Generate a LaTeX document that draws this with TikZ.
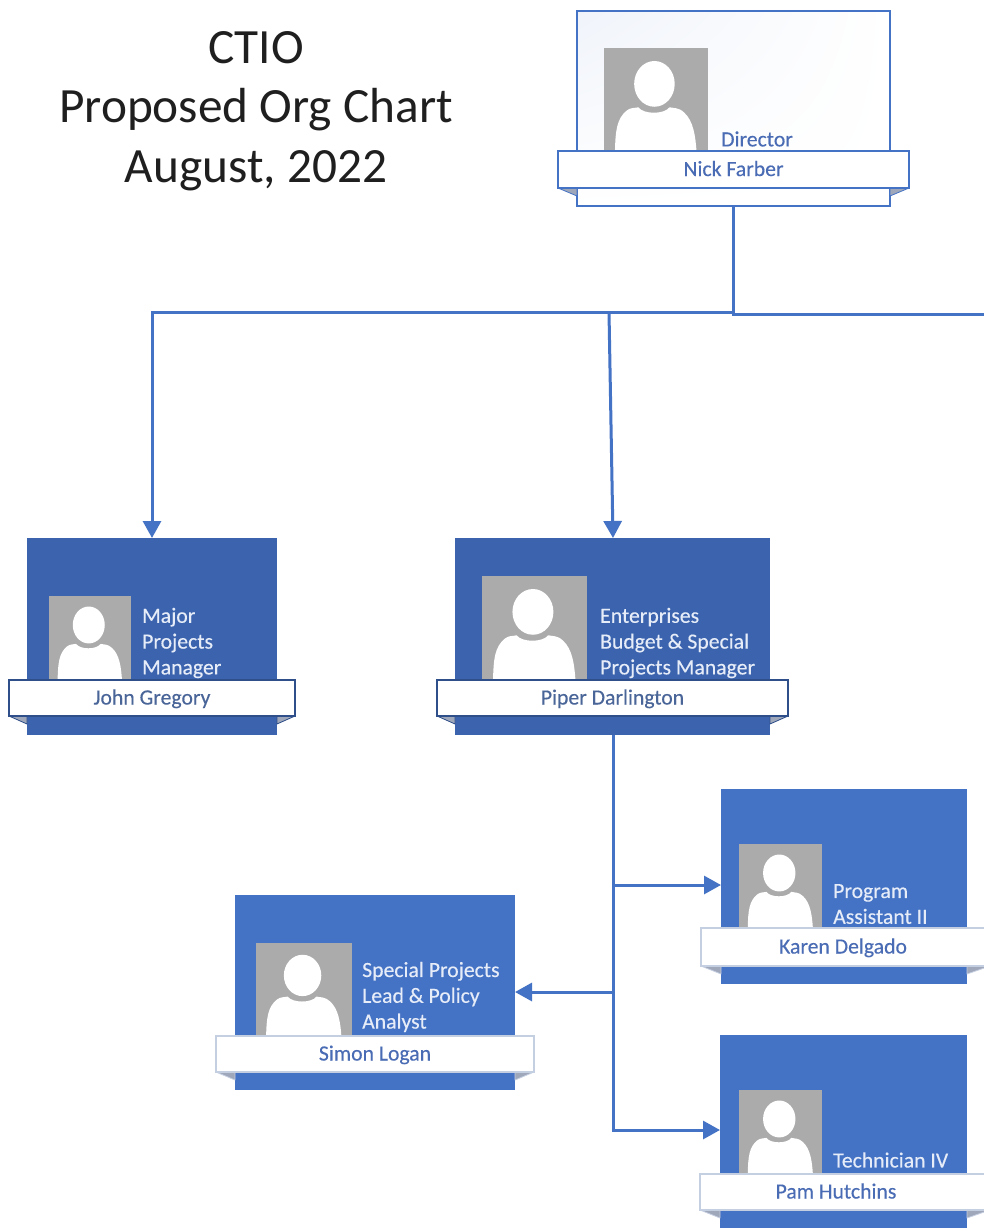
\documentclass[tikz,border=0pt]{standalone}
\usepackage{fontspec}
\setmainfont{Carlito}
\newfontfamily\labelfont[FakeBold=0.3]{Carlito}
\usetikzlibrary{arrows.meta,shadings}
\definecolor{lineblue}{HTML}{4472C4}
\definecolor{cardblue}{HTML}{4472C4}
\definecolor{deepblue}{HTML}{3C64AE}
\definecolor{darkedge}{HTML}{2F4F8A}
\definecolor{softedge}{HTML}{C5CFE2}
\definecolor{photogray}{HTML}{ABABAB}
\definecolor{nametext}{HTML}{4A6CB4}
\definecolor{darkname}{HTML}{4A6699}
\definecolor{titletext}{HTML}{1F1F1F}
\definecolor{roletext}{HTML}{E6ECF8}
\definecolor{tabgray}{HTML}{9FA8BA}
\tikzset{
  cardbase/.style={rectangle,inner sep=0pt,outer sep=0pt},
  cardmid/.style={cardbase,fill=cardblue,draw=none},
  carddeep/.style={cardbase,fill=deepblue,draw=none},
  cardpale/.style={cardbase,draw=lineblue,line width=1.8pt,upper left=white!92!lineblue,upper right=white,lower left=white,lower right=white},
  conn/.style={draw=lineblue,line width=3pt},
  arr/.style={conn,-{Triangle[length=17pt,width=18pt]}},
  role/.style={anchor=west,align=left,inner sep=0pt,text=roletext,font=\labelfont\fontsize{21.7}{25.8}\selectfont},
  bannername/.style={font=\labelfont\fontsize{21.7}{25}\selectfont,text height=18pt,text depth=5pt},
  title/.style={align=center,inner sep=0pt,text=titletext,font=\fontsize{49.3}{59.5}\selectfont},
}
% name, style, x0, y0, x1, y1
\newcommand{\cardbox}[6]{%
  \pgfmathsetmacro{\cx}{(#3+#5)/2}\pgfmathsetmacro{\cy}{(#4+#6)/2}%
  \pgfmathsetmacro{\cw}{#5-#3}\pgfmathsetmacro{\ch}{#6-#4}%
  \node[#2,minimum width=\cw pt,minimum height=\ch pt] (#1) at (\cx,\cy) {};}
% x0, y0, x1, y1
\newcommand{\photo}[4]{%
  \pgfmathsetmacro{\pw}{#3-#1}\pgfmathsetmacro{\ph}{#4-#2}%
  \begin{scope}[shift={(#1,#2)},xscale=\pw,yscale=\ph]
    \fill[photogray] (0,0) rectangle (1,1);
    \fill[white] (.105,1) .. controls (.11,.8) and (.12,.68) .. (.22,.6)
      .. controls (.26,.57) and (.29,.58) .. (.33,.57)
      .. controls (.38,.64) and (.58,.64) .. (.63,.57)
      .. controls (.67,.58) and (.72,.57) .. (.77,.62)
      .. controls (.86,.7) and (.88,.85) .. (.89,1) -- cycle;
    \fill[white] (.485,.345) ellipse [x radius=.195,y radius=.22];
  \end{scope}}
% name, text colour, edge, x0, y0, x1, y1, card x0, card x1, text
\newcommand{\banner}[9]{%
  \pgfmathsetmacro{\bx}{(#4+#6)/2}\pgfmathsetmacro{\by}{(#5+#7)/2}%
  \pgfmathsetmacro{\bw}{#6-#4}\pgfmathsetmacro{\bh}{#7-#5}%
  \pgfmathsetmacro{\tb}{#7+8}%
  \fill[tabgray,draw=#3,line width=.8pt,line join=round] (#4,#7) -- (#8,\tb) -- (#8,#7) -- cycle;
  \fill[tabgray,draw=#3,line width=.8pt,line join=round] (#6,#7) -- (#9,\tb) -- (#9,#7) -- cycle;
  \node[cardbase,draw=#3,fill=white,line width=1.5pt,minimum width=\bw pt,minimum height=\bh pt,text=#2,bannername] (#1) at (\bx,\by) {\bannertext};}
\begin{document}
\begin{tikzpicture}[x=1pt,y=-1pt]
\useasboundingbox[fill=white] (0,0) rectangle (984,1231);

\node[title] (heading) at (256,111) {CTIO\\Proposed Org Chart\\August, 2022};

% cards
\cardbox{nick}{cardpale}{577}{11}{890}{206}
\cardbox{john}{carddeep}{27}{538}{277}{735}
\cardbox{piper}{carddeep}{455}{538}{770}{735}
\cardbox{karen}{cardmid}{721}{789}{967}{984}
\cardbox{simon}{cardmid}{235}{895}{515}{1090}
\cardbox{pam}{cardmid}{720}{1035}{967}{1228}

% photos
\photo{604}{48}{708}{152}
\photo{49}{596}{131}{680}
\photo{482}{576}{587}{680}
\photo{739}{844}{822}{928}
\photo{256}{943}{352}{1037}
\photo{739}{1090}{822}{1174}

% roles
\node[role,text=nametext] (nickrole) at (721,139) {Director};
\node[role] (johnrole) at (142,643) {Major\\Projects\\Manager};
\node[role] (piperrole) at (600,643) {Enterprises\\Budget \& Special\\Projects Manager};
\node[role] (karenrole) at (833,904) {Program\\Assistant II};
\node[role] (simonrole) at (362,997) {Special Projects\\Lead \& Policy\\Analyst};
\node[role] (pamrole) at (833,1160) {Technician IV};

% banners
\def\bannertext{Nick Farber}
\banner{nickb}{nametext}{lineblue}{558}{151}{909}{188}{577}{890}
\def\bannertext{John Gregory}
\banner{johnb}{darkname}{darkedge}{9}{680}{295}{716}{27}{277}
\def\bannertext{Piper Darlington}
\banner{piperb}{darkname}{darkedge}{437}{680}{788}{716}{455}{770}
\def\bannertext{}
\banner{karenb}{nametext}{softedge}{701}{928}{990}{966}{721}{967}
\node[bannername,text=nametext] (karenname) at (843,947) {Karen Delgado};
\def\bannertext{Simon Logan}
\banner{simonb}{nametext}{softedge}{216}{1036}{534}{1072}{235}{515}
\def\bannertext{}
\banner{pamb}{nametext}{softedge}{700}{1174}{990}{1210}{720}{967}
\node[bannername,text=nametext] (pamname) at (836,1192) {Pam Hutchins};

% connectors
\coordinate (busn) at (733.5,312);
\coordinate (rightedge) at (984,314);
\coordinate (busl) at (152,312);
\coordinate (busm) at (609,312);
\coordinate (tojohn) at (152,538);
\coordinate (topiper) at (613,538);
\coordinate (drop) at (613,735);
\coordinate (turnpam) at (613,1130);
\coordinate (topam) at (720,1130);
\coordinate (forkk) at (613,885);
\coordinate (tokaren) at (721,885);
\coordinate (forks) at (613,992);
\coordinate (tosimon) at (515,992);
\path[conn] (nick.south -| busn) -- (busn) -- (733.5,314) -- (rightedge);
\path[arr] (busn) -- (busl) -- (tojohn);
\path[arr] (busm) -- (topiper);
\path[arr] (drop) -- (turnpam) -- (topam);
\path[arr] (forkk) -- (tokaren);
\path[arr] (forks) -- (tosimon);
\end{tikzpicture}
\end{document}
